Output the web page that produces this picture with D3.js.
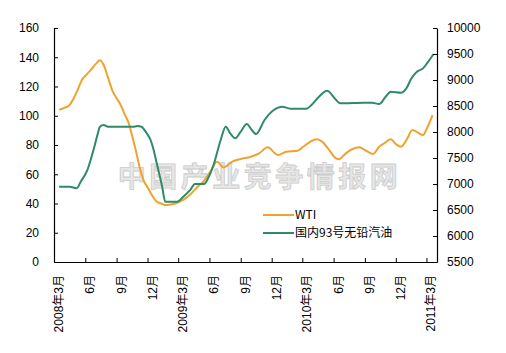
<!DOCTYPE html>
<html>
<head>
<meta charset="utf-8">
<script src="https://cdnjs.cloudflare.com/ajax/libs/d3/7.8.5/d3.min.js"></script>
<style>
  body { margin: 0; background: #fff; }
  text { font-family: "Liberation Sans", Arial, "Noto Sans CJK SC", sans-serif; }
</style>
</head>
<body>
<div id="wrapper"></div>
<script>
// WTI (left axis, 美元/桶)
const wtiDates = ["2008-03-16","2008-04-01","2008-04-13","2008-04-28","2008-05-10","2008-05-22","2008-06-04","2008-06-16",
  "2008-07-04","2008-07-14","2008-07-25","2008-08-07","2008-08-19","2008-09-01","2008-09-13","2008-09-25","2008-10-07",
  "2008-10-16","2008-10-25","2008-11-10","2008-11-19","2008-11-30","2008-12-13","2008-12-28","2009-01-10","2009-01-22",
  "2009-02-15","2009-02-26","2009-03-16","2009-04-07","2009-04-25","2009-05-16","2009-06-04","2009-06-23","2009-07-13",
  "2009-08-07","2009-09-01","2009-10-01","2009-10-25","2009-11-19","2009-12-19","2010-01-13","2010-02-15","2010-03-04",
  "2010-03-25","2010-04-13","2010-04-28","2010-05-19","2010-06-04","2010-06-16","2010-07-07","2010-07-25","2010-08-16",
  "2010-09-04","2010-09-25","2010-10-13","2010-10-28","2010-11-16","2010-12-01","2010-12-16","2011-01-01","2011-01-19",
  "2011-02-04","2011-02-19","2011-02-28","2011-03-19"]
const wtiValues = [104,105.5,106.7,112,118,124.5,128,131,
  136,138,134.7,126,117.6,112,107.4,101,94.8,
  87,78.8,62.9,56,51.5,46,41.2,40,39,
  39.7,40.5,42.5,46.5,51,55.5,62,68.6,64.7,
  68.6,70.4,72,74.3,78.4,73.2,75.4,76.1,78.8,
  82.3,83.9,82.3,76.6,71.6,70.2,74.3,77.1,78.4,
  76.1,73.9,78.8,81.2,83.9,80.7,78.8,83.4,90.3,
  88.4,86.8,90.3,100.5]

// 国内93号无铅汽油 (right axis, 元/吨)
const gasDates = ["2008-03-16","2008-04-16","2008-05-07","2008-05-19","2008-06-07","2008-06-25","2008-07-07","2008-07-14",
  "2008-07-25","2008-08-07","2008-09-01","2008-10-01","2008-10-19","2008-11-01","2008-11-13","2008-11-28","2008-12-10",
  "2008-12-19","2008-12-28","2009-01-13","2009-01-22","2009-02-26","2009-03-16","2009-04-07","2009-04-19","2009-05-16",
  "2009-05-28","2009-06-13","2009-07-04","2009-07-19","2009-08-01","2009-08-16","2009-09-01","2009-09-19","2009-10-01",
  "2009-10-16","2009-11-10","2009-12-07","2010-01-01","2010-01-25","2010-03-13","2010-03-28","2010-04-19","2010-05-13",
  "2010-05-19","2010-06-04","2010-06-22","2010-08-28","2010-09-22","2010-10-13","2010-11-01","2010-11-16","2010-12-16",
  "2011-01-01","2011-01-16","2011-02-01","2011-02-19","2011-03-04","2011-03-22"]
const gasValues = [6948,6945,6920,7050,7269,7654,7950,8102,
  8135,8100,8100,8100,8100,8115,8100,7980,7846,
  7654,7398,6948,6660,6660,6756,6898,7000,7000,
  7110,7365,7846,8102,7975,7879,8006,8154,8060,
  7961,8231,8423,8487,8449,8449,8519,8679,8795,
  8775,8650,8551,8564,8564,8538,8679,8775,8756,
  8840,9033,9160,9224,9333,9500]

const leftTicks = [0,20,40,60,80,100,120,140,160]
const rightTicks = [5500,6000,6500,7000,7500,8000,8500,9000,9500,10000]
const seriesNames = ["WTI","国内93号无铅汽油"]
const watermark = "中国产业竞争情报网"

function drawLineChart(){
    const dateParser = d3.timeParse("%Y-%m-%d")
    const wti = wtiDates.map((d,i) => ({date: dateParser(d), value: wtiValues[i]}))
    const gas = gasDates.map((d,i) => ({date: dateParser(d), value: gasValues[i]}))
    const xAccessor = d => d.date
    const yAccessor = d => d.value

    let dimensions = {
        width: 506,
        height: 353,
        margin: {top: 28, right: 69, bottom: 91, left: 54},
    }
    dimensions.boundedWidth = dimensions.width - dimensions.margin.left - dimensions.margin.right
    dimensions.boundedHeight = dimensions.height - dimensions.margin.top - dimensions.margin.bottom

    const wrapper = d3.select("#wrapper").append("svg")
        .attr("width", dimensions.width)
        .attr("height", dimensions.height)

    const bounds = wrapper.append("g")
        .attr("transform", `translate(${dimensions.margin.left},${dimensions.margin.top})`)

    // scales
    const xScale = d3.scaleTime()
        .domain([dateParser("2008-03-01"), dateParser("2011-04-01")])
        .range([0, dimensions.boundedWidth])

    const yScale = d3.scaleLinear()
        .domain([0, 160])
        .range([dimensions.boundedHeight, 0])

    const y2Scale = d3.scaleLinear()
        .domain([5500, 10000])
        .range([dimensions.boundedHeight, 0])

    // watermark
    bounds.append("text")
        .attr("x", dimensions.boundedWidth / 2 + 14)
        .attr("y", 159)
        .attr("text-anchor", "middle")
        .style("font-family", "'Noto Sans CJK SC', sans-serif")
        .style("font-weight", "bold")
        .style("font-size", "28px")
        .style("letter-spacing", "3.5px")
        .attr("fill", "#e6e6e6")
        .attr("stroke", "#cccccc")
        .attr("stroke-width", 0.8)
        .text(watermark)

    // lines
    const wtiLine = d3.line()
        .x(d => xScale(xAccessor(d)))
        .y(d => yScale(yAccessor(d)))
        .curve(d3.curveMonotoneX)

    const gasLine = d3.line()
        .x(d => xScale(xAccessor(d)))
        .y(d => y2Scale(yAccessor(d)))
        .curve(d3.curveMonotoneX)

    bounds.append("path")
        .attr("d", wtiLine(wti))
        .attr("fill", "none")
        .attr("stroke", "#F0A22E")
        .attr("stroke-width", 2)

    bounds.append("path")
        .attr("d", gasLine(gas))
        .attr("fill", "none")
        .attr("stroke", "#2F8A66")
        .attr("stroke-width", 2)

    // axes
    const yAxis = bounds.append("g")
        .call(d3.axisLeft(yScale).tickValues(leftTicks).tickSizeInner(-4).tickSizeOuter(0).tickPadding(15))
    const y2Axis = bounds.append("g")
        .attr("transform", `translate(${dimensions.boundedWidth},0)`)
        .call(d3.axisRight(y2Scale).tickValues(rightTicks).tickFormat(d3.format("d"))
            .tickSizeInner(-4).tickSizeOuter(0).tickPadding(10))

    // every 3 months starting at March 2008
    const monthTicks = d3.timeMonth.range(dateParser("2008-03-01"), dateParser("2011-03-02"), 3)
    const xAxis = bounds.append("g")
        .attr("transform", `translate(0,${dimensions.boundedHeight})`)
        .call(d3.axisBottom(xScale).tickValues(monthTicks).tickSizeInner(-4).tickSizeOuter(0).tickFormat(""))

    ;[yAxis, y2Axis, xAxis].forEach(a => {
        a.select(".domain").attr("stroke", "#000").attr("stroke-width", 1.2)
        a.selectAll(".tick line").attr("stroke", "#000")
        a.selectAll(".tick text").style("font-size", "12px").attr("fill", "#000")
            .style("font-family", "'Liberation Sans', Arial, sans-serif")
    })

    // rotated month labels
    const labelFormat = d => d.getMonth() === 2 ? `${d.getFullYear()}年3月` : `${d.getMonth() + 1}月`
    bounds.append("g")
        .selectAll("text")
        .data(monthTicks)
        .join("text")
        .attr("transform", d => `translate(${xScale(d) + 9},${dimensions.boundedHeight + 13}) rotate(-90)`)
        .attr("text-anchor", "end")
        .style("font-size", "12px")
        .style("font-family", "'Liberation Sans', 'Noto Sans CJK SC', sans-serif")
        .text(labelFormat)

    // legend
    const legend = bounds.append("g")
        .attr("transform", "translate(209,187)")
    const legendColors = ["#F0A22E", "#2F8A66"]
    seriesNames.forEach((name, i) => {
        const row = legend.append("g").attr("transform", `translate(0,${i * 18})`)
        row.append("line")
            .attr("x1", 0).attr("x2", 31)
            .attr("stroke", legendColors[i])
            .attr("stroke-width", 2)
        row.append("text")
            .attr("x", 32)
            .attr("dy", "0.35em")
            .style("font-size", "12px")
            .style("font-family", "'Noto Sans CJK SC', sans-serif")
            .text(name)
    })
}

drawLineChart()
</script>
</body>
</html>
